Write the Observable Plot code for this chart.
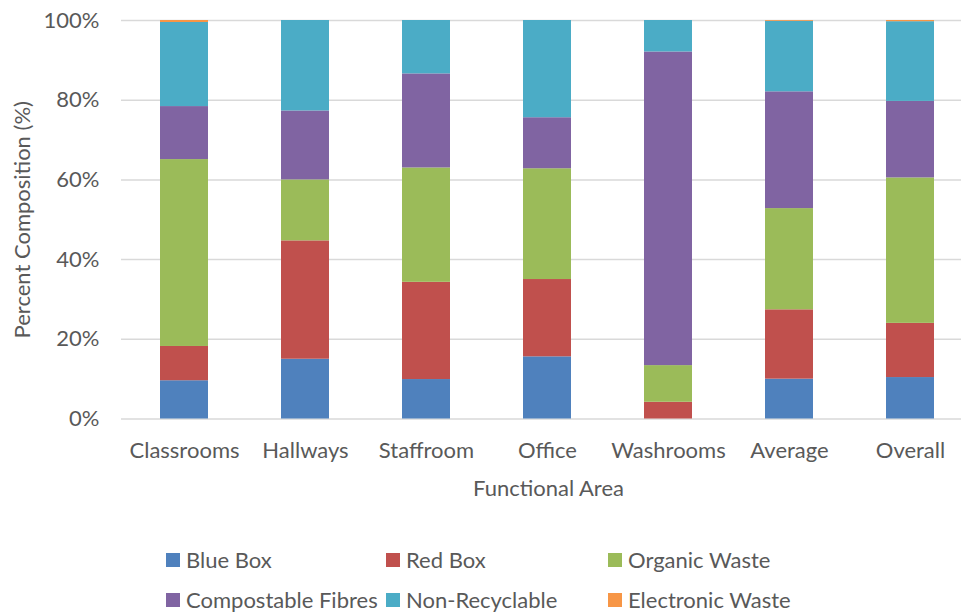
<!DOCTYPE html>
<html>
<head>
<meta charset="utf-8">
<script src="https://cdn.jsdelivr.net/npm/d3@7"></script>
<script src="https://cdn.jsdelivr.net/npm/@observablehq/plot@0.6"></script>
<style>
  html, body { margin: 0; padding: 0; background: #fff; overflow: hidden; }
  #wrap { position: relative; width: 961px; height: 615px; font-family: Lato, "Open Sans", sans-serif; color: #595959; overflow: hidden; }
  #legend { position: absolute; left: 0; top: 0; width: 961px; height: 615px; pointer-events: none; }
  .item { position: absolute; display: flex; align-items: center; font-size: 22px; line-height: 20px; white-space: nowrap; }
  .sw { width: 14px; height: 14px; margin-right: 6px; flex: none; }
</style>
</head>
<body>
<div id="wrap"><div id="chart"></div><div id="legend"></div></div>
<script>
const categories = ["Classrooms", "Hallways", "Staffroom", "Office", "Washrooms", "Average", "Overall"];
const seriesNames = ["Blue Box", "Red Box", "Organic Waste", "Compostable Fibres", "Non-Recyclable", "Electronic Waste"];
const blueBox          = [9.6, 15.0, 9.9, 15.6, 0.0, 10.0, 10.4];
const redBox           = [8.6, 29.7, 24.4, 19.4, 4.2, 17.4, 13.6];
const organicWaste     = [46.9, 15.3, 28.7, 27.8, 9.2, 25.4, 36.5];
const compostableFibres= [13.3, 17.3, 23.6, 12.8, 78.7, 29.3, 19.2];
const nonRecyclable    = [21.1, 22.7, 13.4, 24.4, 7.9, 17.7, 20.0];
const electronicWaste  = [0.5, 0.0, 0.0, 0.0, 0.0, 0.2, 0.3];
const seriesColors = ["#4F81BD", "#C0504D", "#9BBB59", "#8064A2", "#4BACC6", "#F79646"];
const yTicks = [0, 20, 40, 60, 80, 100];

const seriesValues = [blueBox, redBox, organicWaste, compostableFibres, nonRecyclable, electronicWaste];
const data = [];
seriesNames.forEach((s, si) => {
  categories.forEach((c, ci) => {
    data.push({area: c, type: s, value: seriesValues[si][ci]});
  });
});

const textColor = "#595959";
const fs = 22;

const chart = Plot.plot({
  width: 961,
  height: 520,
  marginLeft: 121,
  marginRight: 0,
  marginTop: 20,
  marginBottom: 101.5,
  style: {fontFamily: "Lato, 'Open Sans', sans-serif", background: "white"},
  x: {domain: categories, range: [121, 973.6], paddingInner: 0.6, paddingOuter: 0.3},
  y: {domain: [0, 100]},
  color: {domain: seriesNames, range: seriesColors},
  marks: [
    Plot.ruleY(yTicks, {stroke: "#d9d9d9", strokeWidth: 1.5}),
    Plot.barY(data, {x: "area", y: "value", fill: "type", order: seriesNames}),
    Plot.axisX({tickSize: 0, tickPadding: 23, fontSize: fs, color: textColor, label: null}),
    Plot.axisY({ticks: yTicks, tickFormat: d => d + "%", tickSize: 0, tickPadding: 22, fontSize: fs, color: textColor, label: null}),
    Plot.text(["Functional Area"], {frameAnchor: "bottom", dx: 7, dy: 77, fontSize: fs, fill: textColor}),
    Plot.text(["Percent Composition (%)"], {frameAnchor: "left", textAnchor: "middle", dx: -99, rotate: -90, fontSize: fs, fill: textColor})
  ]
});
document.getElementById("chart").appendChild(chart);

// Legend
const legend = document.getElementById("legend");
const colX = [166, 386, 608];
const rowY = [560, 600];
seriesNames.forEach((s, i) => {
  const item = document.createElement("div");
  item.className = "item";
  item.style.left = colX[i % 3] + "px";
  item.style.top = (rowY[Math.floor(i / 3)] - 10) + "px";
  item.style.height = "20px";
  const sw = document.createElement("span");
  sw.className = "sw";
  sw.style.background = seriesColors[i];
  const t = document.createElement("span");
  t.textContent = s;
  item.appendChild(sw);
  item.appendChild(t);
  legend.appendChild(item);
});
</script>
</body>
</html>
